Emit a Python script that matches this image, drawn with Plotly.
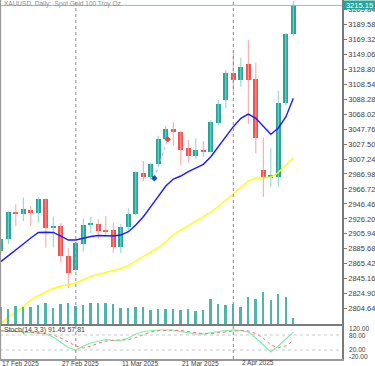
import plotly.graph_objects as go

# ---------------- data ----------------
dates = ["17 Feb 2025", "18 Feb 2025", "19 Feb 2025", "20 Feb 2025", "21 Feb 2025",
         "24 Feb 2025", "25 Feb 2025", "26 Feb 2025", "27 Feb 2025", "28 Feb 2025",
         "3 Mar 2025", "4 Mar 2025", "5 Mar 2025", "6 Mar 2025", "7 Mar 2025",
         "10 Mar 2025", "11 Mar 2025", "12 Mar 2025", "13 Mar 2025", "14 Mar 2025",
         "17 Mar 2025", "18 Mar 2025", "19 Mar 2025", "20 Mar 2025", "21 Mar 2025",
         "24 Mar 2025", "25 Mar 2025", "26 Mar 2025", "27 Mar 2025", "28 Mar 2025",
         "31 Mar 2025", "1 Apr 2025", "2 Apr 2025", "3 Apr 2025", "4 Apr 2025",
         "7 Apr 2025", "8 Apr 2025", "9 Apr 2025", "10 Apr 2025", "11 Apr 2025"]

opens = [2882.7, 2898.6, 2935.5, 2932.8, 2938.2, 2934.6, 2952.7, 2914.3, 2916.5, 2875.9,
         2857.0, 2891.8, 2918.8, 2919.6, 2911.1, 2911.1, 2887.7, 2914.8, 2932.8, 2987.9,
         2983.3, 3000.9, 3034.3, 3048.2, 3044.2, 3022.8, 3011.7, 3019.4, 3017.1, 3055.6,
         3087.1, 3123.2, 3114.1, 3135.4, 3115.5, 2992.4, 2982.0, 2983.3, 3082.6, 3176.4]
highs = [2899.5, 2937.3, 2945.9, 2954.9, 2943.6, 2955.4, 2954.0, 2929.1, 2920.2, 2886.4,
         2895.0, 2927.0, 2929.0, 2925.6, 2930.1, 2921.0, 2919.2, 2940.5, 2990.5, 3004.5,
         3002.5, 3038.4, 3051.9, 3057.3, 3045.5, 3033.0, 3035.3, 3031.6, 3060.0, 3087.1,
         3127.7, 3152.5, 3144.3, 3168.3, 3137.6, 3036.1, 3021.7, 3099.7, 3177.5, 3221.0]
lows = [2881.0, 2892.2, 2916.5, 2923.3, 2916.5, 2921.0, 2887.2, 2888.0, 2866.9, 2832.2,
        2855.0, 2881.8, 2907.0, 2898.6, 2902.0, 2880.4, 2880.0, 2911.1, 2931.0, 2977.4,
        2978.8, 2998.2, 3032.0, 3025.2, 2999.0, 3002.2, 3006.8, 3010.3, 3016.0, 3053.2,
        3075.8, 3098.3, 3105.1, 3054.6, 3014.9, 2956.2, 2969.7, 2969.7, 3080.0, 3174.0]
closes = [2898.5, 2935.1, 2932.4, 2939.2, 2934.6, 2952.7, 2914.3, 2916.2, 2875.9, 2853.4,
          2893.1, 2917.5, 2920.5, 2910.2, 2908.8, 2888.5, 2915.2, 2933.2, 2989.2, 2983.3,
          3000.9, 3033.9, 3047.4, 3044.2, 3019.4, 3011.7, 3019.4, 3018.0, 3057.2, 3081.3,
          3124.0, 3114.1, 3132.2, 3114.1, 3036.1, 2982.5, 2985.5, 3082.6, 3176.0, 3215.15]
volumes = [170000, 150000, 183000, 176000, 173000, 190000, 210000, 166000, 203000, 210000,
           183000, 190000, 210000, 210000, 210000, 200000, 166000, 166000, 173000, 173000,
           140000, 150000, 150000, 156000, 143000, 150000, 133000, 146000, 250000, 203000,
           193000, 203000, 176000, 273000, 253000, 326000, 243000, 300000, 273000, 60000]
ma_fast = [2868.3, 2875.9, 2884.1, 2892.2, 2900.3, 2907.8, 2908.0, 2907.8, 2903.0, 2897.6,
           2897.6, 2900.3, 2902.3, 2903.7, 2903.4, 2903.0, 2904.3, 2908.8, 2917.9, 2929.1,
           2942.7, 2956.2, 2970.7, 2980.2, 2984.2, 2990.0, 2994.6, 3000.0, 3010.3, 3023.9,
           3037.4, 3051.0, 3062.3, 3068.1, 3062.3, 3051.0, 3040.7, 3049.2, 3064.1, 3089.4]
ma_slow = [2784.6, 2793.4, 2800.2, 2807.6, 2816.4, 2822.5, 2827.3, 2832.0, 2835.4, 2836.7,
           2839.4, 2843.5, 2848.3, 2851.0, 2853.7, 2856.4, 2859.0, 2862.8, 2868.5, 2875.3,
           2881.3, 2887.5, 2894.9, 2905.1, 2911.1, 2917.2, 2922.6, 2928.7, 2935.5, 2942.9,
           2951.7, 2960.8, 2968.6, 2977.4, 2981.5, 2982.5, 2982.5, 2988.9, 2999.1, 3009.0]
stoch_main = [96, 96, 94, 92, 90, 88, 84, 72, 52, 30,
              20, 36, 48, 56, 62, 58, 58, 68, 84, 94,
              98, 100, 100, 99, 94, 88, 84, 84, 90, 94,
              98, 100, 98, 92, 68, 40, 12, 36, 62, 91.45]
stoch_signal = [97, 98, 96, 94, 92, 90, 86, 80, 68, 52,
                36, 28, 35, 47, 55, 59, 59, 61, 70, 82,
                92, 97, 99, 99, 98, 94, 88, 85, 86, 89,
                94, 97, 98, 96, 86, 67, 40, 29, 37, 57.81]
trade_bars = [20.47, 22.25]
trade_prices = [2981.1, 3033.9]
price_ticks = [3209.84, 3189.58, 3169.32, 3149.06, 3128.80, 3108.54, 3088.28, 3068.02,
               3047.76, 3027.50, 3007.24, 2986.98, 2966.72, 2946.46, 2926.20, 2905.94,
               2885.68, 2865.42, 2845.16, 2824.90, 2804.64]
x_labels = ["17 Feb 2025", "27 Feb 2025", "11 Mar 2025", "21 Mar 2025", "2 Apr 2025"]
month_starts = ["3 Mar 2025", "1 Apr 2025"]
last_price = 3215.15
title_text = "XAUUSD, Daily:  Spot Gold 100 Troy Oz"
stoch_text = "Stoch(14,3,3) 91.45 57.81"
stoch_levels = [80, 20]
stoch_edge_labels = ["120.00", "80.00", "20.00", "-20.00"]

# ---------------- style ----------------
W, H = 375, 366
FONT = "Liberation Sans"
BULL = "#26a69a"
BEAR = "#ef5350"
BULL_WICK = "#8fd1c9"
BEAR_WICK = "#f5a3a2"


def py(px):
    return 1 - px / H


x_right = 342 / W
main_dom = [py(324.3), 1.0]
stoch_dom = [py(359), py(325.5)]
x_range = [-0.107, 45.49]

idx = list(range(len(dates)))
bull = [i for i in idx if closes[i] >= opens[i]]
bear = [i for i in idx if closes[i] < opens[i]]

fig = go.Figure()

# volumes
fig.add_trace(go.Bar(x=idx, y=volumes, yaxis="y3", xaxis="x", width=0.22,
                     marker=dict(color="#4db6ac", line=dict(width=0)), hoverinfo="skip"))


def wick_xy(ids):
    xs, ys = [], []
    for i in ids:
        xs += [i, i, None]
        ys += [lows[i], highs[i], None]
    return xs, ys


for ids, wc in ((bull, BULL_WICK), (bear, BEAR_WICK)):
    wx, wy = wick_xy(ids)
    fig.add_trace(go.Scatter(x=wx, y=wy, mode="lines", line=dict(color=wc, width=1),
                             xaxis="x", yaxis="y", hoverinfo="skip"))

for ids, bc in ((bull, BULL), (bear, BEAR)):
    fig.add_trace(go.Bar(
        x=ids,
        base=[min(opens[i], closes[i]) for i in ids],
        y=[max(abs(closes[i] - opens[i]), 1.2) for i in ids],
        width=0.66, marker=dict(color=bc, line=dict(width=0)),
        xaxis="x", yaxis="y", hoverinfo="skip"))

# moving averages
fig.add_trace(go.Scatter(x=idx, y=ma_slow, mode="lines", line=dict(color="#ffff00", width=1.4),
                         xaxis="x", yaxis="y"))
fig.add_trace(go.Scatter(x=idx, y=ma_fast, mode="lines", line=dict(color="#1a1aff", width=1.4),
                         xaxis="x", yaxis="y"))

# trade markers
fig.add_trace(go.Scatter(x=trade_bars, y=trade_prices, mode="lines",
                         line=dict(color="#9cb8e6", width=1, dash="dot"), xaxis="x", yaxis="y"))
fig.add_trace(go.Scatter(x=trade_bars, y=trade_prices, mode="markers",
                         marker=dict(color=["#1f4fbf", "#e8463c"], size=5, symbol="diamond"),
                         xaxis="x", yaxis="y"))

# stochastic
fig.add_trace(go.Scatter(x=idx, y=stoch_main, mode="lines", line=dict(color="#78f0a8", width=1.2),
                         xaxis="x2", yaxis="y2"))
fig.add_trace(go.Scatter(x=idx, y=stoch_signal, mode="lines",
                         line=dict(color="#ff6b6b", width=1, dash="dot"), xaxis="x2", yaxis="y2"))

shapes = []
# current price line
shapes.append(dict(type="line", xref="paper", yref="y", x0=0, x1=x_right, y0=last_price, y1=last_price,
                   line=dict(color="#7cc8c0", width=1)))
# month separators
for d in month_starts:
    i = dates.index(d)
    shapes.append(dict(type="line", xref="x", yref="paper", x0=i, x1=i, y0=stoch_dom[0], y1=1,
                       line=dict(color="#8a8a8a", width=1, dash="dot")))
# stochastic levels
for lv in stoch_levels:
    shapes.append(dict(type="line", xref="paper", yref="y2", x0=0, x1=x_right, y0=lv, y1=lv,
                       line=dict(color="#c8c8c8", width=1, dash="dot")))
# left border
shapes.append(dict(type="line", xref="paper", yref="paper", x0=0.001, x1=0.001, y0=stoch_dom[0], y1=1,
                   line=dict(color="#9a9a9a", width=1.5)))

annotations = []
annotations.append(dict(text=title_text, xref="paper", yref="paper", x=2 / W, y=py(4),
                        xanchor="left", yanchor="middle", showarrow=False,
                        font=dict(family=FONT, size=6.5, color="#8c8c8c")))
annotations.append(dict(text=stoch_text, xref="paper", yref="paper", x=2 / W, y=py(330),
                        xanchor="left", yanchor="middle", showarrow=False,
                        font=dict(family=FONT, size=7, color="#404040")))
annotations.append(dict(text=f"{last_price:.2f}", xref="paper", yref="y", x=343 / W, y=last_price,
                        xanchor="left", yanchor="middle", showarrow=False, bgcolor=BULL,
                        borderpad=0, width=31, height=8,
                        font=dict(family=FONT, size=7.5, color="white")))
for lab, ypx in zip(stoch_edge_labels, [328.0, 335.3, 349.2, 356.2]):
    annotations.append(dict(text=lab, xref="paper", yref="paper", x=346.5 / W, y=py(ypx),
                            xanchor="left", yanchor="middle", showarrow=False,
                            font=dict(family=FONT, size=6.6, color="#404040")))
for lab in x_labels:
    i = dates.index(lab)
    annotations.append(dict(text=lab, xref="x2", yref="paper", x=i, y=py(363), xshift=-1,
                            xanchor="left", yanchor="middle", showarrow=False,
                            font=dict(family=FONT, size=6.5, color="#404040")))

fig.update_layout(
    width=W, height=H, margin=dict(l=0, r=0, t=0, b=0),
    paper_bgcolor="white", plot_bgcolor="white", showlegend=False,
    barmode="overlay", bargap=0, template="none",
    xaxis=dict(domain=[0, x_right], range=x_range, anchor="y", showgrid=False, zeroline=False,
               showticklabels=False, ticks="", showline=True, linecolor="#7a7a7a", linewidth=2),
    xaxis2=dict(domain=[0, x_right], range=x_range, anchor="y2", showgrid=False, zeroline=False,
                showticklabels=False, ticks="", showline=True, linecolor="#9a9a9a", linewidth=1.5),
    yaxis=dict(domain=main_dom, range=[2783.52, 3222.43], side="right", anchor="x",
               tickvals=price_ticks, ticktext=[f"{v:.2f}" for v in price_ticks],
               ticks="outside", ticklen=3, tickcolor="#7a7a7a", automargin=False,
               showgrid=False, zeroline=False, showline=True, linecolor="#7a7a7a", linewidth=1.5,
               tickfont=dict(family=FONT, size=7.5, color="#404040")),
    yaxis2=dict(domain=stoch_dom, range=[-16, 118], side="right", anchor="x2",
                showticklabels=False, ticks="", automargin=False,
                showgrid=False, zeroline=False, showline=True, linecolor="#7a7a7a", linewidth=1.5),
    yaxis3=dict(overlaying="y", range=[0, 3243000], visible=False, anchor="x"),
    shapes=shapes, annotations=annotations,
)

fig.write_html("out.html", config={"displayModeBar": False},
               post_script="document.body.style.margin='0px';document.body.style.overflow='hidden';")
